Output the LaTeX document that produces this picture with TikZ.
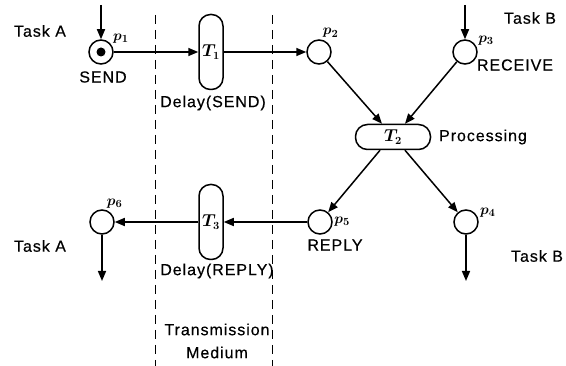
\documentclass[tikz,border=0pt]{standalone}
\usepackage{amsmath}
\usepackage{fontspec}
\setmainfont{Liberation Sans}[FakeBold=0.4]
\usetikzlibrary{arrows.meta,positioning}

\tikzset{
  place/.style={circle, draw, line width=1.5pt, minimum size=24pt, inner sep=0pt},
  trans/.style={draw, line width=1.5pt, rounded corners=11.5pt, inner sep=0pt,
    font=\fontsize{16}{18}\selectfont\boldmath},
  arc/.style={line width=1.5pt, -{Triangle[length=10pt,width=8pt]}},
  txt/.style={font=\fontsize{16}{23}\selectfont\addfontfeature{LetterSpace=6}},
  pl/.style={font=\fontsize{15}{17}\selectfont\boldmath, inner sep=1.5pt},
  medium/.style={line width=0.9pt, dash pattern=on 9pt off 6pt}
}

\begin{document}
\begin{tikzpicture}[x=1pt,y=-1pt]
    \useasboundingbox (0,0) rectangle (566,366);

    % Draw the transmission medium
    \draw[medium] (155,15) -- (155,366);
    \draw[medium] (272,15) -- (272,366);

    % Draw the places
    \node[place, label={[pl]35:$p_1$}] (p1) at (101,52) {};
    \fill (p1) circle (4.5pt);
    \node[place, label={[pl]80:$p_2$}] (p2) at (319,52) {};
    \node[place, label={[pl]25:$p_3$}] (p3) at (465,52) {};
    \node[place, label={[pl]15:$p_4$}] (p4) at (466,222) {};
    \node[place, label={[pl]0:$p_5$}] (p5) at (320,222) {};
    \node[place, label={[pl]75:$p_6$}] (p6) at (102,222) {};

    % Draw the transitions
    \node[trans, minimum width=24pt, minimum height=75pt] (T1) at (211,52) {$T_1$};
    \node[trans, minimum width=75pt, minimum height=25pt, rounded corners=12pt] (T2) at (393,137) {$T_2$};
    \node[trans, minimum width=24pt, minimum height=75pt] (T3) at (211,222) {$T_3$};

    % Free ends of the arcs
    \coordinate (inA) at (101,5);
    \coordinate (inB) at (465,5);
    \coordinate (outA) at (102,281);
    \coordinate (outB) at (466,281);

    % Draw the arcs
    \draw[arc] (inA) -- (p1);
    \draw[arc] (p1) -- (T1);
    \draw[arc] (T1) -- (p2);
    \draw[arc] (inB) -- (p3);
    \draw[arc] (p2) -- ([xshift=-11pt]T2.north);
    \draw[arc] (p3) -- ([xshift=12pt]T2.north);
    \draw[arc] ([xshift=-13pt]T2.south) -- (p5);
    \draw[arc] ([xshift=12pt]T2.south) -- (p4);
    \draw[arc] (p5) -- (T3);
    \draw[arc] (T3) -- (p6);
    \draw[arc] (p6) -- (outA);
    \draw[arc] (p4) -- (outB);

    % Texts
    \node[txt] (taskA1) at (40,31) {Task A};
    \node[txt] (taskB1) at (530,18) {Task B};
    \node[txt] (taskA2) at (40,246) {Task A};
    \node[txt] (taskB2) at (537,256) {Task B};
    \node[txt] (send) at (103,77) {SEND};
    \node[txt] (recv) at (515,65) {RECEIVE};
    \node[txt] (reply) at (335,245) {REPLY};
    \node[txt] (proc) at (483,137) {Processing};
    \node[txt] (dsend) at (213,103) {Delay(SEND)};
    \node[txt] (dreply) at (217,271) {Delay(REPLY)};
    \node[txt, align=center] (med) at (217,341) {Transmission\\Medium};
\end{tikzpicture}
\end{document}
